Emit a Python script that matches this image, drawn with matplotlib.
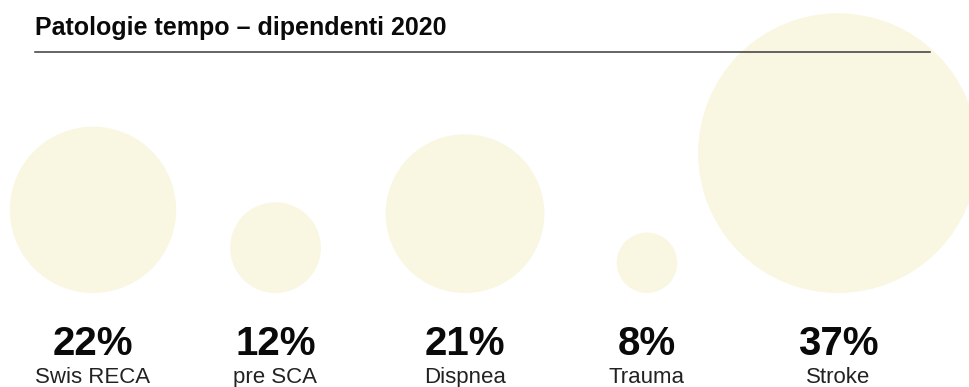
import matplotlib.pyplot as plt
from matplotlib.patches import Circle

# data
categories = ["Swis RECA", "pre SCA", "Dispnea", "Trauma", "Stroke"]
values = [22, 12, 21, 8, 37]
title = "Patologie tempo – dipendenti 2020"

# layout (pixels)
W, H = 970, 387
x_pos = [93, 275.5, 465, 647, 838]
base_y = 293          # bottom of all circles
px_per_pct = 3.78     # radius scale
fill = "#f9f6e2"

plt.rcParams['font.family'] = ['Liberation Sans', 'DejaVu Sans']

fig = plt.figure(figsize=(W / 100, H / 100), dpi=100)
ax = fig.add_axes([0, 0, 1, 1])
ax.set_xlim(0, W)
ax.set_ylim(H, 0)
ax.set_aspect('equal')
ax.axis('off')

for x, v, name in zip(x_pos, values, categories):
    r = v * px_per_pct
    ax.add_patch(Circle((x, base_y - r), r, color=fill, lw=0, zorder=1))
    ax.text(x, 355, f"{v}%", ha='center', va='baseline', fontsize=29,
            fontweight='bold', color='#0a0a0a')
    ax.text(x, 383, name, ha='center', va='baseline', fontsize=16,
            color='#222222')

# title and rule
ax.text(35, 35, title, ha='left', va='baseline', fontsize=18,
        fontweight='bold', color='#0a0a0a')
ax.plot([35, 930], [52, 52], color='#3a3a3a', lw=1.1, zorder=3)

fig.savefig("out.png", dpi=100)
